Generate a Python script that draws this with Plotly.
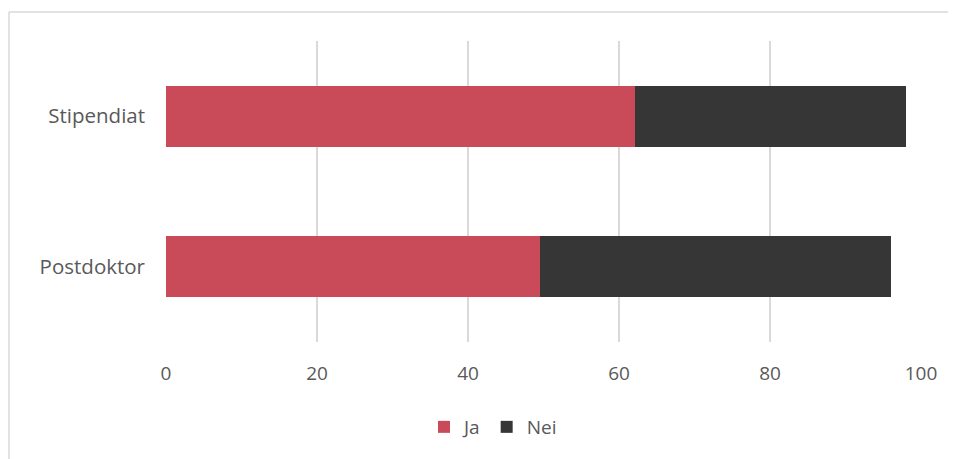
import plotly.graph_objects as go

categories = ["Postdoktor", "Stipendiat"]
ja_values = [49.5, 62.1]
nei_values = [46.5, 35.9]
tick_vals = [0, 20, 40, 60, 80, 100]

FONT = "'Open Sans', sans-serif"
GREY = "#595959"

fig = go.Figure()
fig.add_trace(go.Bar(y=categories, x=ja_values, name="Ja", orientation="h",
                     marker=dict(color="#C94A58", line=dict(width=0))))
fig.add_trace(go.Bar(y=categories, x=nei_values, name="Nei", orientation="h",
                     marker=dict(color="#363636", line=dict(width=0))))

# page has an 8px body margin, so the figure is 8px smaller than the window
W, H = 948, 451
L, R, T, B = 158, 35, 33, 117
pw, ph = W - L - R, H - T - B

def px_x(p):
    return (p - L) / pw

def px_y(p):
    return (H - B - p) / ph

fig.update_layout(
    width=W, height=H,
    barmode="stack", bargap=0.595,
    margin=dict(l=L, r=R, t=T, b=B),
    plot_bgcolor="white", paper_bgcolor="white",
    font=dict(family=FONT, color=GREY, size=19),
    xaxis=dict(range=[0, 100], tickvals=tick_vals, showgrid=True,
               gridcolor="#D9D9D9", gridwidth=1.5, zeroline=False,
               showline=False, ticks="", ticklabelstandoff=18,
               tickfont=dict(size=19, color=GREY)),
    yaxis=dict(showgrid=False, zeroline=False, showline=False, ticks="",
               ticklabelstandoff=20, tickfont=dict(size=20.5, color=GREY)),
    legend=dict(orientation="h", x=px_x(485), xanchor="center",
                y=px_y(419), yanchor="middle", traceorder="normal",
                font=dict(size=19, color=GREY), itemwidth=30),
    showlegend=True,
    shapes=[
        dict(type="line", xref="paper", yref="paper",
             x0=px_x(1), x1=px_x(1), y0=px_y(H + 5), y1=px_y(4),
             line=dict(color="#D9D9D9", width=1.5), layer="below"),
        dict(type="line", xref="paper", yref="paper",
             x0=px_x(1), x1=px_x(W + 5), y0=px_y(4), y1=px_y(4),
             line=dict(color="#D9D9D9", width=1.5), layer="below"),
    ],
)

fig.write_html("out.html")
